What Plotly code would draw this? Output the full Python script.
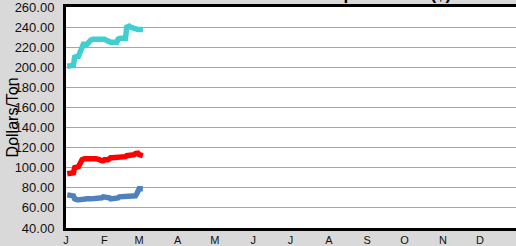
import plotly.graph_objects as go

dates = [
    "2013-01-02", "2013-01-03", "2013-01-04", "2013-01-07", "2013-01-08", "2013-01-09", "2013-01-10", "2013-01-11",
    "2013-01-14", "2013-01-15", "2013-01-16", "2013-01-17", "2013-01-18",
    "2013-01-21", "2013-01-22", "2013-01-23", "2013-01-24", "2013-01-25",
    "2013-01-28", "2013-01-29", "2013-01-30", "2013-01-31",
    "2013-02-01", "2013-02-04", "2013-02-05", "2013-02-06", "2013-02-07", "2013-02-08",
    "2013-02-11", "2013-02-12", "2013-02-13", "2013-02-14", "2013-02-15",
    "2013-02-18", "2013-02-19", "2013-02-20", "2013-02-21", "2013-02-22",
    "2013-02-25", "2013-02-26", "2013-02-27", "2013-02-28",
    "2013-03-01", "2013-03-04",
]

series_cyan = [
    201, 201, 201, 202, 210, 211, 211, 211,
    222, 223, 223, 223, 223,
    227, 228, 228, 228, 228,
    228, 228, 228, 228,
    228, 226, 225, 225, 225, 225,
    225, 228, 229, 229, 229,
    229, 240, 241, 241, 240,
    238, 237.5, 237.5, 237.5,
    237.5, 237.5,
]

series_red = [
    94, 94, 94, 95, 100, 100, 101, 101,
    108, 109, 109, 109, 109,
    109, 109, 110, 110, 109,
    108, 107, 107, 107,
    108, 108, 110, 110, 110, 110,
    110, 110, 110, 110, 111,
    111, 112, 112, 112, 112,
    113, 114, 115, 114.5,
    113, 112,
]

series_blue = [
    73, 73, 73, 72, 69, 68, 68, 68,
    69, 69, 69, 69, 69,
    69, 69, 69, 70, 70,
    70, 70, 70, 71,
    71, 71, 70, 69, 69, 69,
    69, 70, 71, 71, 71,
    71, 71, 71, 72, 72,
    72, 72, 74, 78.5,
    79, 79,
]

month_ticks = ["2013-01-01", "2013-02-01", "2013-03-01", "2013-04-01", "2013-05-01", "2013-06-01",
               "2013-07-01", "2013-08-01", "2013-09-01", "2013-10-01", "2013-11-01", "2013-12-01"]
month_labels = ["J", "F", "M", "A", "M", "J", "J", "A", "S", "O", "N", "D"]
y_ticks = [40, 60, 80, 100, 120, 140, 160, 180, 200, 220, 240, 260]

FONT = "Liberation Sans, Arial, sans-serif"

fig = go.Figure()
fig.add_trace(go.Scatter(x=dates, y=series_cyan, mode="lines",
                         line=dict(color="#3fcfd0", width=5.5), showlegend=False))
fig.add_trace(go.Scatter(x=dates, y=series_red, mode="lines",
                         line=dict(color="#ff0000", width=5.5), showlegend=False))
fig.add_trace(go.Scatter(x=dates, y=series_blue, mode="lines",
                         line=dict(color="#4f81bd", width=5.5), showlegend=False))

fig.update_layout(
    width=516, height=246,
    margin=dict(l=66, r=0, t=6, b=15),
    paper_bgcolor="#d9d9d9",
    plot_bgcolor="#ffffff",
    font=dict(family=FONT, color="#000000"),
    xaxis=dict(
        type="date",
        range=["2013-01-01", "2013-12-30"],
        tickvals=month_ticks, ticktext=month_labels,
        tickfont=dict(size=11, color="#111111"),
        showgrid=False, zeroline=False,
        showline=True, linecolor="#000000", linewidth=3, mirror=True,
        ticks="", ticklabelstandoff=0, ticklabeloverflow="allow",
    ),
    yaxis=dict(
        range=[40, 260],
        tickvals=y_ticks,
        tickformat=".2f",
        tickfont=dict(size=13, color="#111111"),
        showgrid=True, gridcolor="#a6a6a6", gridwidth=1,
        zeroline=False,
        showline=True, linecolor="#000000", linewidth=3,
        ticks="", ticklabelstandoff=6, ticklabeloverflow="allow",
    ),
    annotations=[
        dict(text="Dollars/Ton", textangle=-90, xref="paper", yref="paper",
             x=-0.118, y=0.5, xanchor="center", yanchor="middle", showarrow=False,
             font=dict(family=FONT, size=16, color="#000000")),
        dict(text="<b>Feed Input Prices ($)</b>", xref="paper", yref="paper",
             x=0.67, y=1.0, xanchor="center", yanchor="bottom", yshift=1, showarrow=False,
             font=dict(family=FONT, size=17, color="#000000")),
    ],
)

fig.write_html(
    "out.html",
    config={"displayModeBar": False},
    post_script="document.body.style.margin='0';document.body.style.overflow='hidden';",
)
